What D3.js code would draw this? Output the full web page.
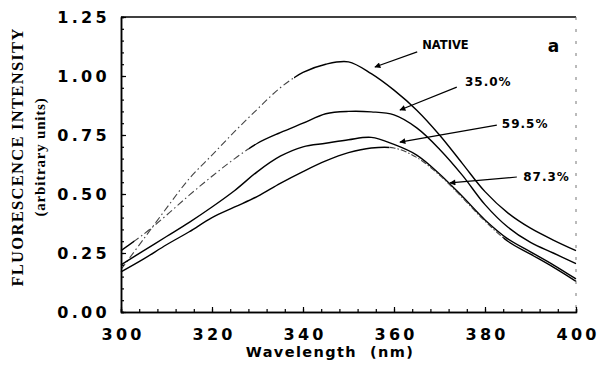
<!DOCTYPE html>
<html>
<head>
<meta charset="utf-8">
<script src="https://cdn.jsdelivr.net/npm/d3@7"></script>
<style>
  body { margin: 0; background: white; }
</style>
</head>
<body>
<div id="container"></div>
<script>
let w = 600;
let h = 379;

// wavelength grid (nm)
let wavelengths = [300, 305, 310, 315, 320, 325, 330, 335, 340, 345, 350,
                   355, 360, 365, 370, 375, 380, 385, 390, 395, 400];

// fluorescence intensity
let nativeValues = [0.18, 0.31, 0.44, 0.565, 0.665, 0.765, 0.86, 0.95, 1.015, 1.05, 1.06,
                    1.01, 0.94, 0.855, 0.75, 0.63, 0.51, 0.42, 0.355, 0.305, 0.26];
let p350Values   = [0.26, 0.33, 0.41, 0.495, 0.575, 0.65, 0.715, 0.76, 0.80, 0.84, 0.85,
                    0.848, 0.835, 0.78, 0.69, 0.58, 0.455, 0.36, 0.295, 0.25, 0.205];
let p595Values   = [0.20, 0.26, 0.32, 0.38, 0.445, 0.515, 0.595, 0.66, 0.70, 0.715, 0.73,
                    0.74, 0.71, 0.665, 0.585, 0.49, 0.39, 0.31, 0.255, 0.20, 0.14];
let p873Values   = [0.17, 0.225, 0.285, 0.34, 0.40, 0.445, 0.49, 0.545, 0.595, 0.64, 0.675,
                    0.695, 0.695, 0.655, 0.58, 0.485, 0.385, 0.30, 0.245, 0.19, 0.13];

let xTickValues = [300, 320, 340, 360, 380, 400];
let yTickValues = [0, 0.25, 0.5, 0.75, 1.0, 1.25];

// labels: text, arrow tip, arrow tail, text anchor (data units)
let labelNames = ["NATIVE", "35.0%", "59.5%", "87.3%"];
let labelTips  = [[355.8, 1.038], [361.3, 0.856], [361.3, 0.72], [372.3, 0.547]];
let labelTails = [[365.1, 1.102], [373.8, 0.953], [382.6, 0.792], [387.0, 0.572]];
let labelPos   = [[366.2, 1.131], [375.6, 0.975], [383.7, 0.80], [388.4, 0.572]];

let viz = d3.select("#container")
  .append("svg")
    .attr("width", w)
    .attr("height", h)
    .style("background-color", "white")
;

let xScale = d3.scaleLinear().domain([300, 400]).range([121, 576]);
let yScale = d3.scaleLinear().domain([0, 1.25]).range([312, 17]);

let defs = viz.append("defs");
defs.append("marker")
    .attr("id", "arrow")
    .attr("viewBox", "0 0 10 10")
    .attr("refX", 9)
    .attr("refY", 5)
    .attr("markerWidth", 9)
    .attr("markerHeight", 6)
    .attr("markerUnits", "userSpaceOnUse")
    .attr("orient", "auto")
  .append("path")
    .attr("d", "M0,0 L10,5 L0,10 z")
    .attr("fill", "black");

function clip(id, x0, x1){
  defs.append("clipPath").attr("id", id)
    .append("rect")
      .attr("x", xScale(x0))
      .attr("y", 0)
      .attr("width", xScale(x1) - xScale(x0))
      .attr("height", h);
}
clip("c-native-dash", 300, 338);
clip("c-native-solid", 338, 402);
clip("c-35-dash", 303, 328);
clip("c-35-solid-a", 298, 303);
clip("c-35-solid-b", 328, 402);
clip("c-87-solid-a", 298, 359);
clip("c-87-dash", 359, 384);
clip("c-87-solid-b", 384, 402);
clip("c-all", 298, 402);

let line = d3.line()
  .x((d, i) => xScale(wavelengths[i]))
  .y(d => yScale(d))
  .curve(d3.curveCatmullRom.alpha(0.5));

function drawCurve(values, clipId, dash){
  viz.append("path")
    .datum(values)
    .attr("d", line)
    .attr("fill", "none")
    .attr("stroke", dash ? "#444" : "black")
    .attr("stroke-width", dash ? 1.1 : 1.4)
    .attr("stroke-dasharray", dash ? dash : null)
    .attr("clip-path", "url(#" + clipId + ")");
}

drawCurve(nativeValues, "c-native-dash", "7,3,1.5,3");
drawCurve(nativeValues, "c-native-solid", null);
drawCurve(p350Values, "c-35-solid-a", null);
drawCurve(p350Values, "c-35-dash", "7,3,1.5,3");
drawCurve(p350Values, "c-35-solid-b", null);
drawCurve(p595Values, "c-all", null);
drawCurve(p873Values, "c-87-solid-a", null);
drawCurve(p873Values, "c-87-dash", "6,2,1.5,2");
drawCurve(p873Values, "c-87-solid-b", null);

// frame
viz.append("line")
  .attr("x1", xScale(300)).attr("x2", xScale(400))
  .attr("y1", yScale(1.25)).attr("y2", yScale(1.25))
  .attr("stroke", "black").attr("stroke-width", 1.6);
viz.append("line")
  .attr("x1", xScale(400)).attr("x2", xScale(400))
  .attr("y1", yScale(1.25)).attr("y2", yScale(0))
  .attr("stroke", "#777").attr("stroke-width", 1)
  .attr("stroke-dasharray", "3,9");

// axes
let xMinor = d3.range(300, 401, 4);
let yMinor = d3.range(0, 1.2501, 0.05);

let xAxis = viz.append("g")
  .attr("transform", "translate(0," + yScale(0) + ")")
  .call(d3.axisBottom(xScale).tickValues(xMinor).tickSize(-3).tickFormat(""));
let xAxisMajor = viz.append("g")
  .attr("transform", "translate(0," + yScale(0) + ")")
  .call(d3.axisBottom(xScale).tickValues(xTickValues).tickSize(-5).tickSizeOuter(0)
    .tickPadding(17).tickFormat(d3.format("d")));

let yAxis = viz.append("g")
  .attr("transform", "translate(" + xScale(300) + ",0)")
  .call(d3.axisLeft(yScale).tickValues(yMinor).tickSize(-3).tickFormat(""));
let yAxisMajor = viz.append("g")
  .attr("transform", "translate(" + xScale(300) + ",0)")
  .call(d3.axisLeft(yScale).tickValues(yTickValues).tickSize(-5).tickSizeOuter(0)
    .tickPadding(11).tickFormat(d3.format(".2f")));

viz.selectAll(".domain").attr("stroke", "black").attr("stroke-width", 1.5);
viz.selectAll(".tick line").attr("stroke", "black").attr("stroke-width", 1.2);
viz.selectAll(".tick text")
  .attr("font-family", "DejaVu Sans")
  .attr("font-weight", "bold")
  .attr("font-size", "16px")
  .attr("letter-spacing", "3.3px")
  .attr("fill", "black");
xAxisMajor.selectAll(".tick text").attr("dx", "1.6px");

// axis titles
viz.append("text")
  .attr("x", 330)
  .attr("y", 357)
  .attr("text-anchor", "middle")
  .attr("font-family", "DejaVu Sans")
  .attr("font-weight", "bold")
  .attr("font-size", "14.5px")
  .attr("letter-spacing", "1.4px")
  .attr("xml:space", "preserve")
  .text("Wavelength  (nm)");

viz.append("text")
  .attr("transform", "translate(23,157) rotate(-90)")
  .attr("text-anchor", "middle")
  .attr("font-family", "Liberation Serif")
  .attr("font-weight", "bold")
  .attr("font-size", "16.5px")
  .attr("letter-spacing", "1.3px")
  .text("FLUORESCENCE INTENSITY");

viz.append("text")
  .attr("transform", "translate(45,157) rotate(-90)")
  .attr("text-anchor", "middle")
  .attr("font-family", "Liberation Serif")
  .attr("font-weight", "bold")
  .attr("font-size", "15px")
  .attr("letter-spacing", "0.8px")
  .text("(arbitrary units)");

// annotations
labelNames.forEach(function(name, i){
  viz.append("line")
    .attr("x1", xScale(labelTails[i][0])).attr("y1", yScale(labelTails[i][1]))
    .attr("x2", xScale(labelTips[i][0])).attr("y2", yScale(labelTips[i][1]))
    .attr("stroke", "black").attr("stroke-width", 1.2)
    .attr("marker-end", "url(#arrow)");
  viz.append("text")
    .attr("x", xScale(labelPos[i][0]))
    .attr("y", yScale(labelPos[i][1]))
    .attr("dy", "0.36em")
    .attr("font-family", "DejaVu Sans")
    .attr("font-weight", "bold")
    .attr("font-size", i == 0 ? "11.5px" : "12px")
    .attr("letter-spacing", i == 0 ? "0px" : "1px")
    .text(name);
});

viz.append("text")
  .attr("x", xScale(393.8))
  .attr("y", yScale(1.127))
  .attr("dy", "0.36em")
  .attr("font-family", "DejaVu Sans")
  .attr("font-weight", "bold")
  .attr("font-size", "17px")
  .text("a");
</script>
</body>
</html>
